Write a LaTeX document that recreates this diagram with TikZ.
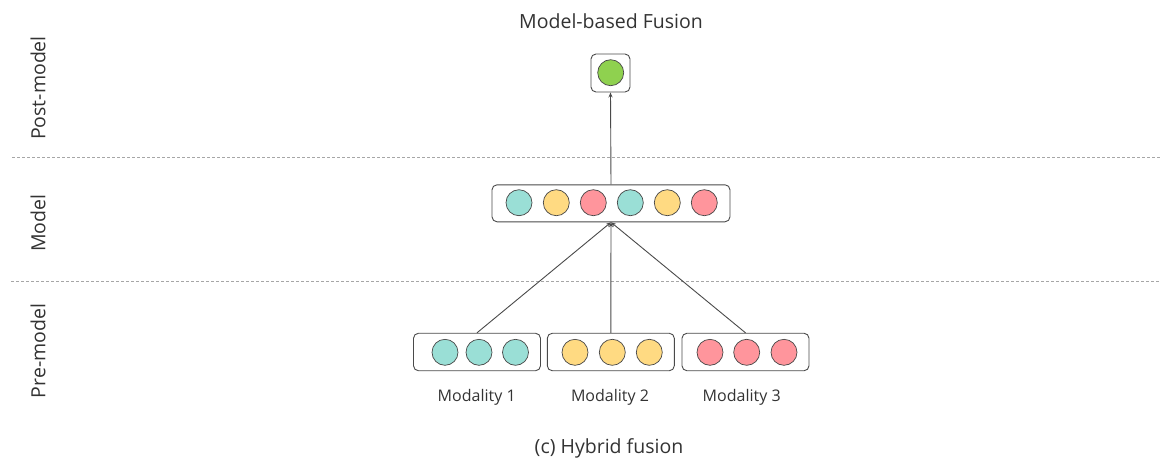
\documentclass[tikz,border=0pt]{standalone}
\usepackage{fontspec}
\setmainfont{Open Sans}
\usetikzlibrary{arrows.meta}
\definecolor{cteal}{HTML}{9ADFD6}
\definecolor{cyellow}{HTML}{FFDA82}
\definecolor{cred}{HTML}{FF959C}
\definecolor{cgreen}{HTML}{8FD14F}
\definecolor{edge}{HTML}{4A4A4A}
\definecolor{ink}{HTML}{333333}
\tikzset{
  frame/.style={draw=edge, line width=0.9pt, rounded corners=5pt, fill=white, inner sep=0pt},
  dot/.style={circle, draw=ink!90, line width=0.7pt, minimum size=26pt, inner sep=0pt},
  divider/.style={draw=gray!70, dashed, dash pattern=on 3pt off 2pt, line width=0.7pt},
  link/.style={draw=edge, line width=0.9pt, -{Stealth[length=5pt,width=4pt]}},
  sidelabel/.style={rotate=90, font=\fontsize{19.5}{23}\selectfont, text=ink},
  headlabel/.style={font=\fontsize{19.5}{23}\selectfont, text=ink},
  lab/.style={font=\fontsize{16}{19}\selectfont, text=ink},
}
\begin{document}
\begin{tikzpicture}[x=1pt,y=-1pt]
\useasboundingbox (0,0) rectangle (1163,459);

% stage dividers
\draw[divider] (12,157) -- (1160,157);
\draw[divider] (11,281) -- (1160,281);

% stage labels
\node[sidelabel] (lpost) at (38,88) {Post-model};
\node[sidelabel] (lmodel) at (38,223) {Model};
\node[sidelabel] (lpre) at (38,351) {Pre-model};

% title and caption
\node[headlabel] (title) at (611,21) {Model-based Fusion};
\node[headlabel] (caption) at (609,448) {(c) Hybrid fusion};

% post-model output
\node[frame, minimum width=39pt, minimum height=38pt] (out) at (610.5,73) {};
\node[dot, fill=cgreen] (g) at (610.7,72.7) {};

% joint model representation
\node[frame, minimum width=238pt, minimum height=37pt] (mid) at (611,203.3) {};
\node[dot, fill=cteal]   (m1) at (519,202.7) {};
\node[dot, fill=cyellow] (m2) at (556.3,202.7) {};
\node[dot, fill=cred]    (m3) at (593.3,202.7) {};
\node[dot, fill=cteal]   (m4) at (630.3,202.7) {};
\node[dot, fill=cyellow] (m5) at (667.3,202.7) {};
\node[dot, fill=cred]    (m6) at (704.3,202.7) {};

% modality inputs
\node[frame, minimum width=127pt, minimum height=37.5pt] (b1) at (477,352) {};
\node[frame, minimum width=127pt, minimum height=37.5pt] (b2) at (610.8,352) {};
\node[frame, minimum width=127pt, minimum height=37.5pt] (b3) at (745.5,352) {};

\node[dot, fill=cteal] (a1) at (445,352.3) {};
\node[dot, fill=cteal] (a2) at (479,352.3) {};
\node[dot, fill=cteal] (a3) at (515.5,352.3) {};
\node[dot, fill=cyellow] (y1) at (575,352.3) {};
\node[dot, fill=cyellow] (y2) at (612.3,352.3) {};
\node[dot, fill=cyellow] (y3) at (649.3,352.3) {};
\node[dot, fill=cred] (r1) at (710,352.3) {};
\node[dot, fill=cred] (r2) at (746.7,352.3) {};
\node[dot, fill=cred] (r3) at (784,352.3) {};

\node[lab] (t1) at (476.7,397) {Modality 1};
\node[lab] (t2) at (610,397) {Modality 2};
\node[lab] (t3) at (741.7,397) {Modality 3};

% connectors
\draw[link] (b1.north) -- (mid.south);
\draw[link] (b2.north) -- (mid.south);
\draw[link] (b3.north) -- (mid.south);
\draw[link] (mid.north) -- (out.south);
\end{tikzpicture}
\end{document}
